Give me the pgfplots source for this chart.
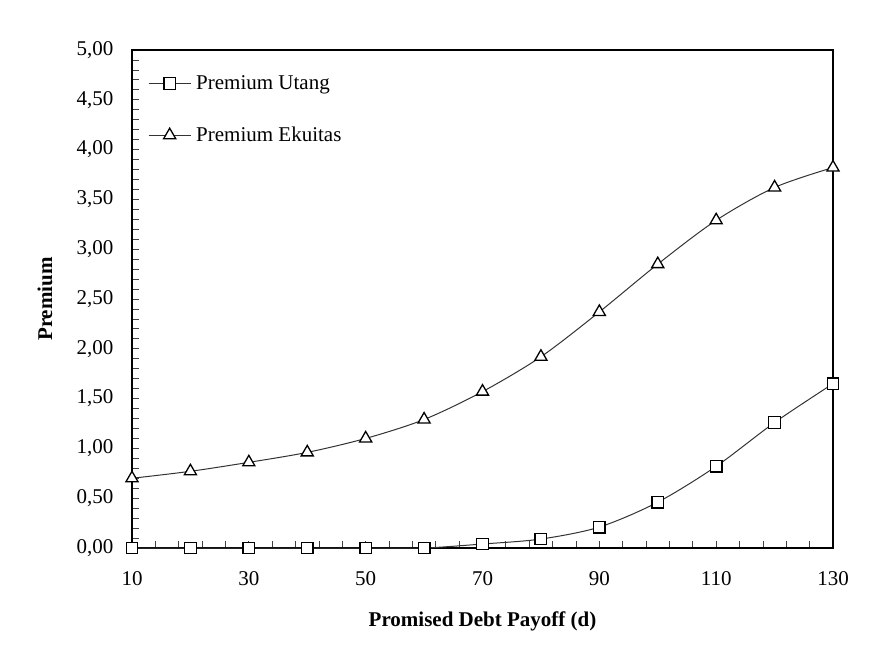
\documentclass[border=0pt]{standalone}
\usepackage{pgfplots}
\pgfplotsset{compat=1.18}
\usepackage{fontspec}
\setmainfont{Liberation Serif}
\begin{document}
\begin{tikzpicture}[font=\fontsize{21}{25}\selectfont]
\path[use as bounding box] (0,0) rectangle (882pt,666pt);
\begin{axis}[
  at={(132pt,118pt)}, anchor=south west,
  scale only axis, width=701pt, height=498pt,
  xmin=10, xmax=130, ymin=0, ymax=5,
  xtick={10,30,...,130},
  ytick={0,0.5,...,5},
  minor x tick num=4, minor y tick num=4,
  tick align=inside, tick pos=left,
  major tick length=7pt, minor tick length=7pt,
  major tick style={black!75, line width=0.8pt},
  minor tick style={black!75, line width=0.8pt},
  axis line style={line width=2.2pt, black},
  /pgf/number format/assume math mode=true,
  yticklabel style={/pgf/number format/.cd, fixed, fixed zerofill, precision=2, use comma, /tikz/.cd, xshift=-15pt},
  xticklabel style={yshift=-20pt},
  xlabel={\bfseries Promised Debt Payoff (d)},
  ylabel={\bfseries Premium},
  every axis x label/.style={at={(axis description cs:0.5,-0.1466)}, anchor=center},
  every axis y label/.style={at={(axis description cs:-0.124,0.5)}, rotate=90, anchor=center},
  clip=false,
  legend cell align=left,
  legend style={draw=none, fill=none, inner sep=0pt, nodes={inner sep=0pt}, row sep=36pt, column sep=5pt,
    at={(axis description cs:0.0228,0.8805)}, anchor=west},
  legend image code/.code={\draw[mark repeat=2,mark phase=2,#1] plot coordinates {(0pt,0pt) (21pt,0pt) (42pt,0pt)};},
]
\addplot[smooth, black!80, line width=1pt, mark=square*, mark size=5.8pt, mark options={fill=white, draw=black, line width=1.3pt, solid}]
coordinates {(10,0.00) (20,0.00) (30,0.00) (40,0.00) (50,0.00) (60,0.00) (70,0.04) (80,0.09) (90,0.21) (100,0.46) (110,0.82) (120,1.26) (130,1.65)};
\addlegendentry{Premium Utang}
\addplot[smooth, black!80, line width=1pt, mark=triangle*, mark size=7pt, mark options={fill=white, draw=black, line width=1.3pt, solid}]
coordinates {(10,0.70) (20,0.77) (30,0.86) (40,0.96) (50,1.10) (60,1.29) (70,1.57) (80,1.92) (90,2.37) (100,2.85) (110,3.29) (120,3.62) (130,3.82)};
\addlegendentry{Premium Ekuitas}
\end{axis}
\end{tikzpicture}
\end{document}
